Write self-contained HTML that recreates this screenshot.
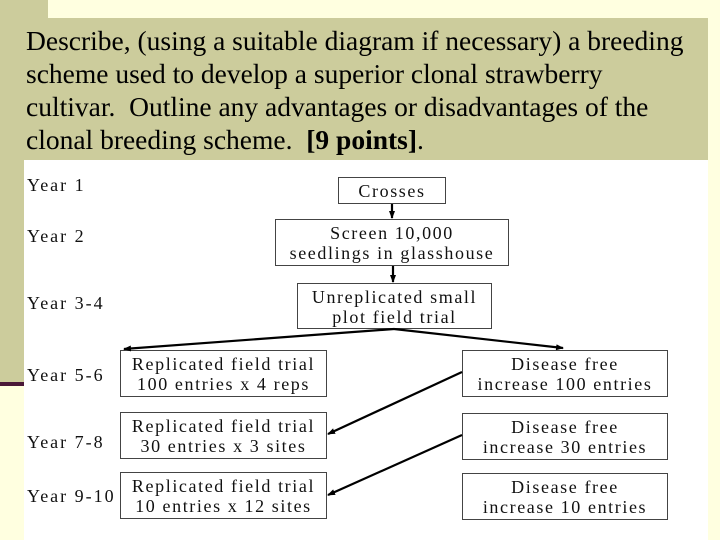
<!DOCTYPE html><html><head><style>
body{margin:0;width:720px;height:540px;overflow:hidden;background:#ffffe0;position:relative;font-family:"Liberation Serif",serif}
div{position:absolute}
.b{border:1px solid #444;background:#fff;text-align:center;font-size:18px;letter-spacing:1.6px;line-height:20px;box-sizing:border-box;padding-top:3px;color:#111;white-space:nowrap}
.y{font-size:18px;letter-spacing:2px;left:27px;color:#111;white-space:nowrap}
</style></head><body>
<div style="left:0;top:0;width:48px;height:18px;background:#cccc9c"></div>
<div style="left:0;top:0;width:24px;height:383px;background:#cccc9c"></div>
<div style="left:0;top:382px;width:24px;height:4px;background:#4a1838"></div>
<div style="left:24px;top:18px;width:684px;height:142px;background:#cccc9c"></div>
<div style="left:24px;top:160px;width:684px;height:380px;background:#fff"></div>
<div style="left:26px;top:24px;font-size:27.5px;line-height:33px;color:#000;white-space:nowrap">Describe, (using a suitable diagram if necessary) a breeding<br>scheme used to develop a superior clonal strawberry<br>cultivar.&nbsp; Outline any advantages or disadvantages of the<br>clonal breeding scheme.&nbsp; <b>[9 points]</b>.</div>
<div class="y" style="top:175px">Year 1</div>
<div class="y" style="top:226px">Year 2</div>
<div class="y" style="top:293px">Year 3-4</div>
<div class="y" style="top:365px">Year 5-6</div>
<div class="y" style="top:432px">Year 7-8</div>
<div class="y" style="top:486px">Year 9-10</div>
<div class="b" style="left:338px;top:177px;width:108px;height:27px">Crosses</div>
<div class="b" style="left:275px;top:219px;width:234px;height:47px">Screen 10,000<br>seedlings in glasshouse</div>
<div class="b" style="left:297px;top:283px;width:195px;height:46px">Unreplicated small<br>plot field trial</div>
<div class="b" style="left:120px;top:350px;width:207px;height:47px">Replicated field trial<br>100 entries x 4 reps</div>
<div class="b" style="left:462px;top:350px;width:206px;height:47px">Disease free<br>increase 100 entries</div>
<div class="b" style="left:120px;top:412px;width:207px;height:47px">Replicated field trial<br>30 entries x 3 sites</div>
<div class="b" style="left:462px;top:413px;width:206px;height:47px">Disease free<br>increase 30 entries</div>
<div class="b" style="left:120px;top:472px;width:207px;height:47px">Replicated field trial<br>10 entries x 12 sites</div>
<div class="b" style="left:462px;top:473px;width:206px;height:47px">Disease free<br>increase 10 entries</div>
<svg width="720" height="540" style="position:absolute;left:0;top:0">
<defs><marker id="a" markerWidth="8" markerHeight="6" refX="7" refY="3" orient="auto" markerUnits="userSpaceOnUse"><path d="M0,0L8,3L0,6z" fill="#000"/></marker></defs>
<g stroke="#000" stroke-width="2.2" fill="none" marker-end="url(#a)">
<line x1="392" y1="204" x2="392" y2="218"/>
<line x1="393" y1="266" x2="393" y2="282"/>
<line x1="394" y1="329" x2="124" y2="349"/>
<line x1="394" y1="329" x2="563" y2="348"/>
<line x1="462" y1="372" x2="328" y2="434"/>
<line x1="462" y1="435" x2="328" y2="495"/>
</g></svg>
</body></html>
